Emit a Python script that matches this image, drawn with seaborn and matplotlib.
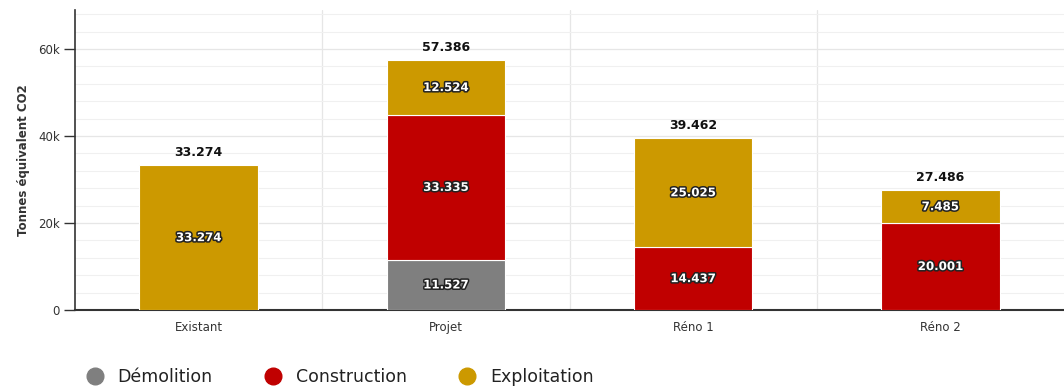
import numpy as np
import pandas as pd
import matplotlib
matplotlib.use("Agg")
import matplotlib.pyplot as plt
import matplotlib.patheffects as pe
from matplotlib.lines import Line2D
from matplotlib.ticker import MultipleLocator, FuncFormatter
import seaborn as sns

categories = ["Existant", "Projet", "Réno 1", "Réno 2"]
demolition = [0, 11527, 0, 0]
construction = [0, 33335, 14437, 20001]
exploitation = [33274, 12524, 25025, 7485]
series_names = ["Démolition", "Construction", "Exploitation"]
colors = ["#7f7f7f", "#c00000", "#cc9900"]

sns.set_theme(style="white")
plt.rcParams["font.family"] = ["DejaVu Sans"]

fig = plt.figure(figsize=(10.64, 3.9), dpi=100)
ax = fig.add_axes([0.0705, 0.205, 0.9295, 0.77])

df = pd.DataFrame({"cat": categories, "Démolition": demolition,
                   "Construction": construction, "Exploitation": exploitation})

bottom = np.zeros(len(categories))
stroke = [pe.withStroke(linewidth=2.2, foreground="#222222")]
for name, col in zip(series_names, colors):
    vals = df[name].to_numpy(dtype=float)
    sns.barplot(data=df, x="cat", y=name, color=col, width=0.48,
                bottom=bottom, ax=ax, saturation=1, edgecolor="white",
                linewidth=0.8, zorder=3)
    for i, v in enumerate(vals):
        if v > 0:
            ax.text(i, bottom[i] + v / 2, f"{v/1000:.3f}", ha="center",
                    va="center", color="white", fontsize=8.5,
                    fontweight="bold", path_effects=stroke, zorder=5)
    bottom = bottom + vals

for i, t in enumerate(bottom):
    ax.text(i, t + 1500, f"{t/1000:.3f}", ha="center", va="bottom",
            color="#111111", fontsize=9, fontweight="bold", zorder=5)

ax.set_xlim(-0.5, len(categories) - 0.5)
ax.set_ylim(0, 69000)
ax.yaxis.set_major_locator(MultipleLocator(20000))
ax.yaxis.set_minor_locator(MultipleLocator(4000))
ax.yaxis.set_major_formatter(FuncFormatter(lambda v, p: "0" if v == 0 else f"{int(v/1000)}k"))
ax.grid(axis="y", which="major", color="#e6e6e6", linewidth=0.9, zorder=0)
ax.grid(axis="y", which="minor", color="#f0f0f0", linewidth=0.8, zorder=0)
for b in np.arange(0.5, len(categories) - 0.5, 1):
    ax.axvline(b, color="#e6e6e6", linewidth=0.9, zorder=0)
ax.set_axisbelow(True)

for s in ["top", "right"]:
    ax.spines[s].set_visible(False)
ax.spines["left"].set_color("#333333")
ax.spines["left"].set_linewidth(1.2)
ax.spines["bottom"].set_color("#333333")
ax.spines["bottom"].set_linewidth(1.5)

ax.tick_params(axis="y", which="major", left=True, length=8, width=1,
               color="#333333", labelsize=8.5, labelcolor="#333333", pad=3)
ax.tick_params(axis="y", which="minor", left=False)
ax.tick_params(axis="x", bottom=False, labelsize=8.5, labelcolor="#333333", pad=2)
ax.set_xlabel("")
ax.set_ylabel("Tonnes équivalent CO2", fontsize=8.5, fontweight="bold",
              color="#333333", labelpad=6)

handles = [Line2D([0], [0], marker="o", linestyle="", markersize=12,
                  markerfacecolor=c, markeredgecolor=c) for c in colors]
fig.legend(handles, series_names, loc="lower left",
           bbox_to_anchor=(0.058, -0.03), ncol=3, frameon=False,
           fontsize=12.5, handletextpad=0.3, columnspacing=2.5,
           labelcolor="#222222")

fig.savefig("out.png", dpi=100, facecolor="white")
